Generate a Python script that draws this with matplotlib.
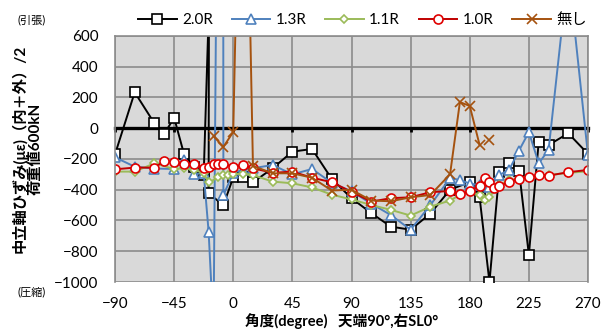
import numpy as np
import matplotlib
matplotlib.use("Agg")
import matplotlib.pyplot as plt

plt.rcParams['font.family'] = ['Lato', 'Noto Sans CJK JP', 'DejaVu Sans']

# ---- data ----
nan = np.nan

ang_20 = [-90, -75, -60, -52.5, -45, -37.5, -30, -22.5, -18.5, -18.75, -7.5, 0, 7.5, 15,
          30, 45, 60, 75, 90, 105, 120, 135, 150, 165, 180, 187.5, 195, 202.5, 210,
          217.5, 225, 232.5, 240, 255, 270]
val_20 = [-170, 234, 32, -37, 69, -167, -250, -305, 800, -424, -500, -320, -320, -352,
          -260, -152, -135, -330, -455, -552, -640, -660, -555, -400, -350, -450, -1000,
          -282, -228, -275, -824, -87, -109, -33, -167]

ang_13 = [-90, -75, -60, -45, -37.5, -30, -22.5, -18.75, -15, -8, -7.5, 0, 7.5, 15, 30,
          45, 60, 75, 90, 105, 120, 135, 150, 165, 172.5, 180, 187.5, 195, 202.5, 210,
          217.5, 225, 232.5, 240, 255, 270]
val_13 = [-189, -250, -262, -265, -206, -300, -290, -673, -1310, 6300, -435, -290, -270,
          -260, -239, -300, -265, -355, -410, -490, -565, -660, -500, -325, -336, -360,
          -370, -380, -304, -270, -145, -25, -228, -141, 1030, -175]

ang_11 = [-90, -75, -60, -45, -37.5, -30, -22.5, -18.75, -11.25, -7.5, -3.75, 0, 7.5, 15,
          30, 45, 60, 75, 90, 105, 120, 135, 150, 165, 172.5, 180, 187.5, 191.25, 195,
          202.5, 210, 217.5, 225, 232.5, 240, 255, 270]
val_11 = [-282, -282, -228, -265, -260, -270, -290, -352, -320, -305, -303, -300, -295,
          -305, -347, -358, -385, -432, -463, -499, -531, -568, -510, -470, -434, -412,
          -434, -466, -445, -369, -336, -330, -320, -310, -305, -290, -280]

ang_10 = [-90, -75, -60, -52.5, -45, -37.5, -30, -22.5, -18.75, -15, -11.25, -7.5, 0,
          7.5, 15, 30, 45, 60, 75, 90, 105, 120, 135, 150, 165, 172.5, 180, 187.5,
          191.25, 195, 198.75, 202.5, 210, 217.5, 225, 232.5, 240, 255, 270]
val_10 = [-267, -256, -256, -213, -219, -234, -234, -256, -250, -232, -232, -232, -250,
          -239, -260, -290, -282, -322, -351, -414, -477, -455, -449, -416, -408, -429,
          -408, -373, -325, -347, -386, -373, -351, -330, -315, -304, -308, -286, -271]

ang_00 = [-15, -7.5, 0, 7.5, 15, 30, 45, 60, 75, 90, 105, 120, 135, 150, 165, 172.5,
          180, 187.5, 191.25, 195]
val_00 = [-52, -121, -24, 3000, -245, -293, -293, -322, -405, -400, -470, -475, -449,
          -434, -300, 170, 145, -109, nan, -76]

series = [
    ("2.0R", ang_20, val_20, "black", "s", 6.5, "black"),
    ("1.3R", ang_13, val_13, "#4F81BD", "^", 6.5, "#4F81BD"),
    ("1.1R", ang_11, val_11, "#9BBB59", "D", 4.5, "#9BBB59"),
    ("1.0R", ang_10, val_10, "#C00000", "o", 6.5, "#E00000"),
    ("無し", ang_00, val_00, "#A5520F", "x", 7, "#A5520F"),
]

xticks = list(range(-90, 271, 45))
yticks = list(range(-1000, 601, 200))

fig = plt.figure(figsize=(6.01, 3.29), dpi=100)
ax = fig.add_axes([115 / 601, 1 - 282 / 329, (588 - 115) / 601, (282 - 36) / 329])
ax.set_facecolor("#D9D9D9")

for name, xs, ys, col, mk, ms, mec in series:
    ax.plot(xs, ys, color=col, lw=1.4, marker=mk, markersize=ms,
            markerfacecolor="white" if mk != "x" else col,
            markeredgecolor=mec, markeredgewidth=1.2, label=name)

ax.set_xlim(-90, 270)
ax.set_ylim(-1000, 600)
ax.set_xticks(xticks)
ax.set_yticks(yticks)
ax.grid(True, color="#8C8C8C", lw=1.2)
ax.set_axisbelow(True)

for s in ["top", "right", "left"]:
    ax.spines[s].set_color("#8C8C8C")
    ax.spines[s].set_linewidth(1.2)
ax.spines["bottom"].set_position(("data", 0))
ax.spines["bottom"].set_linewidth(2.4)
ax.spines["bottom"].set_color("black")
ax.spines["bottom"].set_zorder(1.5)
ax.tick_params(axis="x", direction="out", length=3, width=2, labelbottom=False)
ax.tick_params(axis="y", length=0, pad=12, labelsize=11)

sec = ax.secondary_xaxis("bottom")
sec.set_xticks(xticks)
sec.tick_params(length=0, pad=11, labelsize=11)
sec.spines["bottom"].set_visible(False)

fig.legend(loc="center", bbox_to_anchor=(0.603, 0.938), ncol=5, frameon=False,
           fontsize=11, handlelength=2.5, columnspacing=1.25, handletextpad=0.35)

fig.text(0.045, 1 - 149 / 329, "中立軸ひずみ(με)（内＋外）/2\n荷重値600kN", rotation=90,
         ha="center", va="center", multialignment="center", fontsize=11,
         fontweight="bold", linespacing=1.1)
fig.text(32 / 601, 1 - 20 / 329, "(引張)", ha="center", va="center", fontsize=8)
fig.text(32 / 601, 1 - 292 / 329, "(圧縮)", ha="center", va="center", fontsize=8)
fig.text(342 / 601, 1 - 321 / 329, "角度(degree)   天端90°,右SL0°", ha="center",
         va="center", fontsize=10.5, fontweight="bold")

fig.savefig("out.png", dpi=100)
